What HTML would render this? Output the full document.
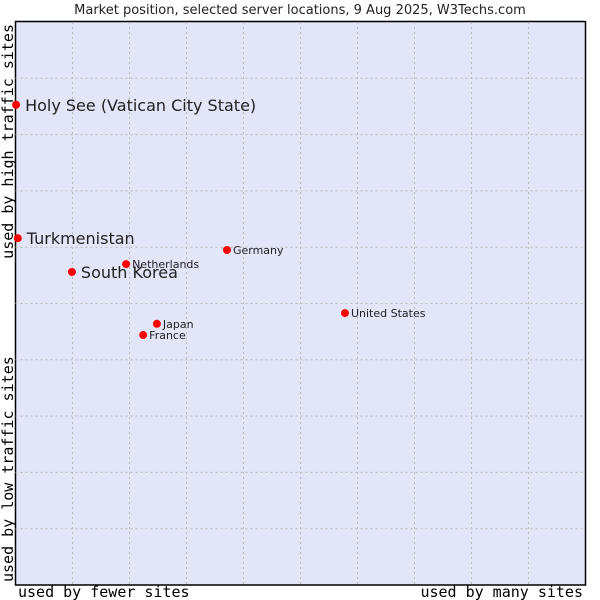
<!DOCTYPE html>
<html><head><meta charset="utf-8"><style>
body{margin:0;background:#fff;}
svg{display:block;font-family:"DejaVu Sans","Liberation Sans",sans-serif;}
</style></head><body>
<svg id="chart" width="600" height="600">
<text x="300" y="14" text-anchor="middle" font-size="13" fill="#222">Market position, selected server locations, 9 Aug 2025, W3Techs.com</text>
<rect x="15.5" y="21.5" width="570" height="563.5" fill="#e3e5f8" stroke="#000" stroke-width="1.5"/>
<g id="grid"></g>
<g id="marks"></g>
<text x="18" y="597" font-family="'DejaVu Sans Mono','Liberation Mono',monospace" font-size="15" fill="#000">used by fewer sites</text>
<text x="583" y="597" text-anchor="end" font-family="'DejaVu Sans Mono','Liberation Mono',monospace" font-size="15" fill="#000">used by many sites</text>
<text transform="translate(13,582) rotate(-90)" font-family="'DejaVu Sans Mono','Liberation Mono',monospace" font-size="15" fill="#000">used by low traffic sites</text>
<text transform="translate(13,24) rotate(-90)" text-anchor="end" font-family="'DejaVu Sans Mono','Liberation Mono',monospace" font-size="15" fill="#000">used by high traffic sites</text>
</svg>
<script>
const countries=["Holy See (Vatican City State)","Turkmenistan","South Korea","Netherlands","Germany","United States","Japan","France"];
const xValues=[0.1,0.4,9.9,19.4,37.1,57.8,24.8,22.4];
const yValues=[85.3,61.6,55.6,57.0,59.5,48.3,46.4,44.4];
const highlighted=[true,true,true,false,false,false,false,false];
const gridTicks=[10,20,30,40,50,60,70,80,90];

const L=15.5,R=585.5,T=22,B=585;
const xs=v=>L+v/100*(R-L);
const ys=v=>B-v/100*(B-T);
const NS="http://www.w3.org/2000/svg";
const grid=document.getElementById('grid'),marks=document.getElementById('marks');
gridTicks.forEach(t=>{
  const v=document.createElementNS(NS,'line');
  v.setAttribute('x1',xs(t));v.setAttribute('x2',xs(t));v.setAttribute('y1',T);v.setAttribute('y2',B);
  v.setAttribute('stroke','#bbb');v.setAttribute('stroke-dasharray','2,3');
  
  
  grid.appendChild(v);
  const h=document.createElementNS(NS,'line');
  h.setAttribute('y1',ys(t));h.setAttribute('y2',ys(t));h.setAttribute('x1',L);h.setAttribute('x2',R);
  h.setAttribute('stroke','#bbb');h.setAttribute('stroke-dasharray','2,3');
  
  
  grid.appendChild(h);
});
countries.forEach((c,i)=>{
  const x=xs(xValues[i]),y=ys(yValues[i]);
  const p=document.createElementNS(NS,'circle');
  p.setAttribute('cx',x);p.setAttribute('cy',y);p.setAttribute('r',4);p.setAttribute('fill','#f00');
  
  
  marks.appendChild(p);
  const t=document.createElementNS(NS,'text');
  const big=highlighted[i];
  t.setAttribute('x',x+(big?9:6));t.setAttribute('y',y+(big?6:4));
  t.setAttribute('font-size',big?16:11);t.setAttribute('fill','#222');
  t.textContent=c;
  
  
  marks.appendChild(t);
});
</script>
</body></html>
